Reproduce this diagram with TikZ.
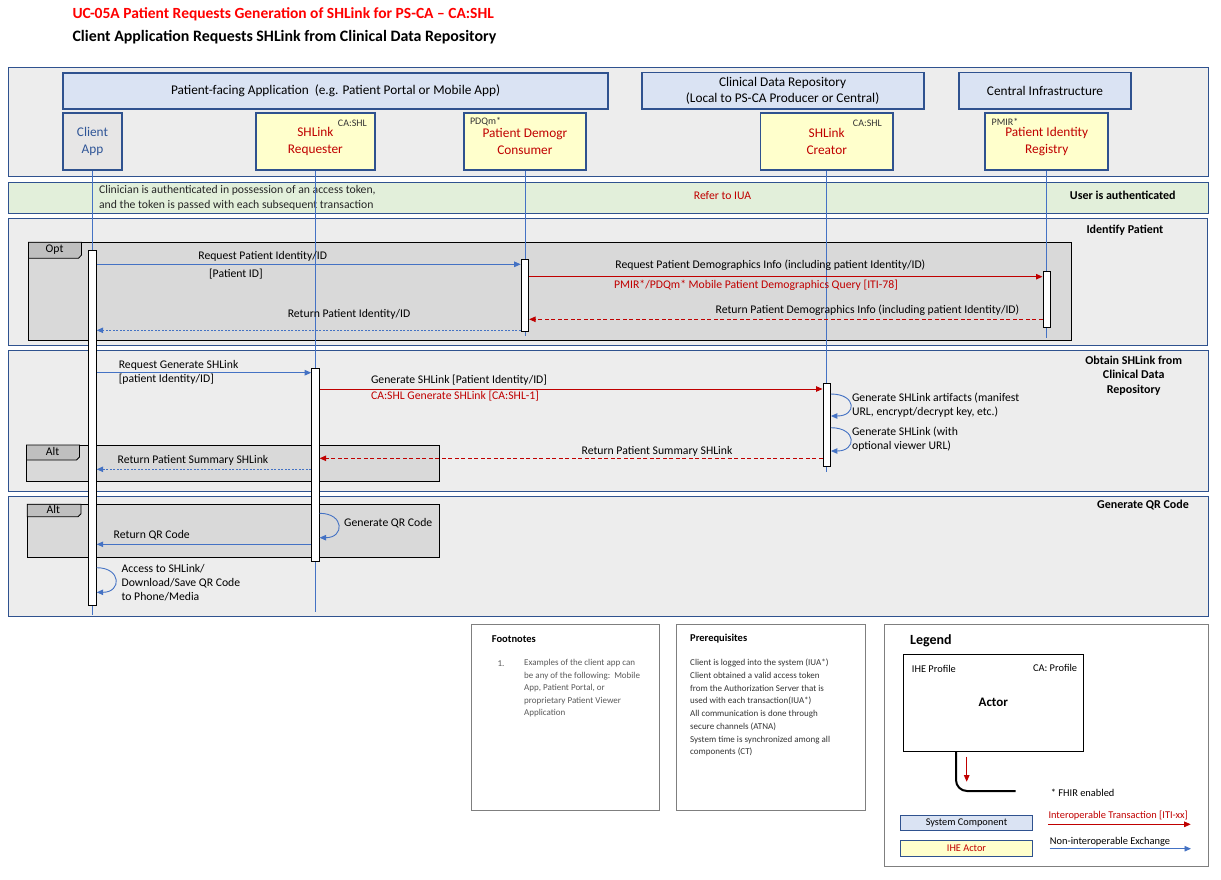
\documentclass[tikz,border=0pt]{standalone}
\usepackage{fontspec}
\setmainfont{Carlito}
\usepackage{xcolor}
\usetikzlibrary{arrows.meta}

\definecolor{frameblue}{HTML}{2F528F}
\definecolor{lifeblue}{HTML}{4472C4}
\definecolor{actred}{HTML}{C00000}
\definecolor{clientblue}{HTML}{2F5597}
\definecolor{sysfill}{HTML}{DAE3F3}
\definecolor{actfill}{HTML}{FFFFCC}
\definecolor{clientfill}{HTML}{E7E6E6}
\definecolor{secfill}{HTML}{EDEDED}
\definecolor{authfill}{HTML}{E2EFDA}
\definecolor{fragfill}{HTML}{D9D9D9}
\definecolor{tabfill}{HTML}{BFBFBF}
\definecolor{boxgray}{HTML}{7F7F7F}

\begin{document}
\begin{tikzpicture}[x=1pt, y=-1pt, font=\fontsize{11.7}{14.3}\selectfont,
    section/.style={draw=frameblue, line width=0.8pt, fill=secfill},
    sysbox/.style={draw=frameblue, line width=1.8pt, fill=sysfill, align=center, inner sep=0pt,
      minimum height=36.5pt, font=\fontsize{13.3}{16.7}\selectfont},
    actor/.style={draw=frameblue, line width=1.8pt, fill=actfill, align=center, inner sep=0pt,
      minimum height=56.7pt, text=actred, font=\fontsize{13.3}{16.7}\selectfont},
    tag/.style={inner sep=0pt, text=black!80, font=\fontsize{10}{12}\selectfont},
    frag/.style={draw=black, line width=1pt, fill=fragfill},
    fragtab/.style={draw=black, line width=0.8pt, fill=tabfill},
    life/.style={draw=lifeblue, line width=0.8pt},
    bar/.style={draw=black, line width=0.9pt, fill=white, minimum width=7.5pt, inner sep=0pt},
    msg/.style={draw=lifeblue, line width=0.9pt, -{Triangle[length=6.5pt,width=5.5pt]}},
    ret/.style={msg, dash pattern=on 2pt off 1.5pt},
    tx/.style={draw=actred, line width=0.9pt, -{Triangle[length=6.5pt,width=5.5pt]}},
    txret/.style={tx, dash pattern=on 4pt off 2.5pt},
    lbl/.style={inner sep=0pt},
    seclbl/.style={inner sep=0pt, align=center, font=\bfseries\fontsize{12}{14.6}\selectfont},
    notebox/.style={draw=boxgray, line width=0.9pt},
    note/.style={inner sep=0pt, anchor=west, align=left, font=\fontsize{9}{12.4}\selectfont},
    legtext/.style={inner sep=0pt, anchor=west, font=\fontsize{10.4}{12}\selectfont}]

  \useasboundingbox (0,0) rectangle (1221,879);

  % titles
  \node[anchor=west, text=red, font=\bfseries\fontsize{15.5}{18}\selectfont] (title) at (69,14.3)
    {UC-05A Patient Requests Generation of SHLink for PS-CA – CA:SHL};
  \node[anchor=west, font=\bfseries\fontsize{15.9}{18}\selectfont] (subtitle) at (69,37)
    {Client Application Requests SHLink from Clinical Data Repository};

  % bands
  \draw[section] (8.7,67.7) rectangle (1208.7,176);
  \draw[section, fill=authfill] (8.7,182) rectangle (1208,213.3);
  \draw[section] (8.7,218.3) rectangle (1207,345.7);
  \draw[section] (8.7,350) rectangle (1208,491.7);
  \draw[section] (8.7,496.7) rectangle (1208,616);

  % system components
  \node[sysbox, minimum width=544.5pt] (pfa) at (335.6,90.9)
    {Patient-facing Application\ \ (e.g. Patient Portal or Mobile App)};
  \node[sysbox, minimum width=282pt]   (cdr) at (782.6,90.8)
    {Clinical Data Repository\\(Local to PS-CA Producer or Central)};
  \node[sysbox, minimum width=171.5pt] (cinf) at (1045,90.8) {Central Infrastructure};

  % actors
  \node[actor, minimum width=58.5pt, fill=clientfill, text=clientblue] (client) at (92.5,141.7) {Client\\App};
  \node[actor, minimum width=119.1pt] (req)   at (315.4,141.7) {SHLink\\Requester};
  \node[actor, minimum width=122.2pt] (cons)  at (524.9,141.7) {Patient Demogr\\Consumer};
  \node[actor, minimum width=132.6pt] (creat) at (826.7,141.7) {SHLink\\Creator};
  \node[actor, minimum width=122.8pt] (reg)   at (1046.7,141.7) {Patient Identity\\Registry};

  \node[tag, anchor=east] (reqtag)   at (367,123.5) {CA:SHL};
  \node[tag, anchor=west] (constag)  at (469.8,121.7) {PDQm*};
  \node[tag, anchor=east] (creattag) at (882,123.3) {CA:SHL};
  \node[tag, anchor=west] (regtag)   at (991.5,121.7) {PMIR*};

  % authentication band and section labels
  \node[lbl, anchor=west, align=left, text=black!85] (authnote) at (98.9,197.8)
    {Clinician is authenticated in possession of an access token,\\and the token is passed with each subsequent transaction};
  \node[lbl, text=actred] (iua) at (722.5,195.7) {Refer to IUA};
  \node[seclbl] (authlbl) at (1122.8,195) {User is authenticated};
  \node[seclbl] (idlbl)   at (1124.9,230) {Identify Patient};
  \node[seclbl] (obtlbl)  at (1133.7,375.5) {Obtain SHLink from\\Clinical Data\\Repository};
  \node[seclbl] (qrlbl)   at (1143,505) {Generate QR Code};

  % fragments
  \draw[frag] (28.5,242.3) rectangle (1071.2,340.3);
  \draw[fragtab] (28.5,242.3) -- (81.5,242.3) -- (81.5,255) -- (78.5,258.3) -- (28.5,258.3) -- cycle;
  \node[lbl] (opt) at (54.6,249.5) {Opt};

  \draw[frag] (26.5,445) rectangle (439.3,481);
  \draw[fragtab] (26.5,445) -- (79.5,445) -- (79.5,457) -- (76.5,460) -- (26.5,460) -- cycle;
  \node[lbl] (alt1) at (52.6,451.7) {Alt};

  \draw[frag] (27.3,504.3) rectangle (439.3,557.3);
  \draw[fragtab] (27.3,504.3) -- (81,504.3) -- (81,513.7) -- (78,516.7) -- (27.3,516.7) -- cycle;
  \node[lbl] (alt2) at (53.4,509.6) {Alt};

  % lifelines
  \foreach \a/\e in {client/615, req/612, cons/336, creat/472, reg/338}{
    \coordinate (\a-end) at (\a.south |- 0,\e);
    \draw[life] (\a.south) -- (\a-end);
  }

  % activation bars
  \node[bar, minimum height=354.7pt] (cbar) at (client.south |- 0,427.7) {};
  \node[bar, minimum height=71.7pt]  (dbar) at (cons.south |- 0,295.2) {};
  \node[bar, minimum height=56.3pt]  (rbar) at (reg.south |- 0,299.2) {};
  \node[bar, minimum height=192.7pt] (sbar) at (req.south |- 0,464.7) {};
  \node[bar, minimum height=82.7pt]  (gbar) at (creat.south |- 0,424.7) {};

  % message levels
  \coordinate (m1) at (0,264.3);
  \coordinate (m2) at (0,276.7);
  \coordinate (m3) at (0,319.3);
  \coordinate (m4) at (0,330.3);
  \coordinate (m5) at (0,372.7);
  \coordinate (m6) at (0,389);
  \coordinate (l1a) at (0,394);
  \coordinate (l1b) at (0,416);
  \coordinate (l2a) at (0,427.7);
  \coordinate (l2b) at (0,451);
  \coordinate (m7) at (0,458.3);
  \coordinate (m8) at (0,469.3);
  \coordinate (l3a) at (0,513.3);
  \coordinate (l3b) at (0,537.7);
  \coordinate (m9) at (0,544.3);
  \coordinate (l4a) at (0,567.7);
  \coordinate (l4b) at (0,592.3);

  % identify patient
  \draw[msg]    (cbar.east |- m1) -- (dbar.west |- m1);
  \node[lbl] (t1a) at (262.7,256.3) {Request Patient Identity/ID};
  \node[lbl] (t1b) at (235.9,274.3) {[Patient ID]};

  \draw[tx]     (dbar.east |- m2) -- (rbar.west |- m2);
  \node[lbl, anchor=west] (t2a) at (615.2,265.3) {Request Patient Demographics Info (including patient Identity/ID)};
  \node[lbl, anchor=west, text=actred] (t2b) at (613.9,285.3) {PMIR*/PDQm* Mobile Patient Demographics Query [ITI-78]};

  \draw[txret]  (rbar.west |- m3) -- (dbar.east |- m3);
  \node[lbl, anchor=west] (t3) at (715.4,310) {Return Patient Demographics Info (including patient Identity/ID)};

  \draw[ret]    (dbar.west |- m4) -- (cbar.east |- m4);
  \node[lbl] (t4) at (349,314.3) {Return Patient Identity/ID};

  % obtain shlink
  \draw[msg]    (cbar.east |- m5) -- (sbar.west |- m5);
  \node[lbl, anchor=west, align=left] (t5) at (118.6,372.6) {Request Generate SHLink\\{}[patient Identity/ID]};

  \draw[tx]     (sbar.east |- m6) -- (gbar.west |- m6);
  \node[lbl, anchor=west] (t6a) at (370.9,380) {Generate SHLink [Patient Identity/ID]};
  \node[lbl, anchor=west, text=actred] (t6b) at (370.9,396) {CA:SHL Generate SHLink [CA:SHL-1]};

  \draw[msg] (gbar.east |- l1a) .. controls +(26,0) and +(26,0) .. (gbar.east |- l1b);
  \node[lbl, anchor=west, align=left] (t7) at (851.9,405) {Generate SHLink artifacts (manifest\\URL, encrypt/decrypt key, etc.)};

  \draw[msg] (gbar.east |- l2a) .. controls +(26,0) and +(26,0) .. (gbar.east |- l2b);
  \node[lbl, anchor=west, align=left] (t8) at (851.9,439.5) {Generate SHLink (with\\optional viewer URL)};

  \draw[txret]  (gbar.west |- m7) -- (sbar.east |- m7);
  \node[lbl] (t9) at (657,451) {Return Patient Summary SHLink};

  \draw[ret]    (sbar.west |- m8) -- (cbar.east |- m8);
  \node[lbl, anchor=west] (t10) at (117.4,460) {Return Patient Summary SHLink};

  % generate qr code
  \draw[msg] (sbar.east |- l3a) .. controls +(25,0) and +(25,0) .. (sbar.east |- l3b);
  \node[lbl, anchor=west] (t11) at (344,523.3) {Generate QR Code};

  \draw[msg]    (sbar.west |- m9) -- (cbar.east |- m9);
  \node[lbl, anchor=west] (t12) at (113.5,535.7) {Return QR Code};

  \draw[msg] (cbar.east |- l4a) .. controls +(25,0) and +(25,0) .. (cbar.east |- l4b);
  \node[lbl, anchor=west, align=left] (t13) at (121.4,582.8) {Access to SHLink/\\Download/Save QR Code\\to Phone/Media};

  % footnotes
  \draw[notebox] (471.7,624) rectangle (659.3,810);
  \node[lbl, anchor=west, font=\bfseries\fontsize{10.5}{12}\selectfont] (fnhead) at (491.7,639) {Footnotes};
  \node[note, text=black!65] (fnnum) at (497.3,663.3) {1.};
  \node[note, text=black!65] (fntext) at (524,688.3)
    {Examples of the client app can\\be any of the following:\ \ Mobile\\App, Patient Portal, or\\proprietary Patient Viewer\\Application};

  % prerequisites
  \draw[notebox] (676,624) rectangle (865,810);
  \node[lbl, anchor=west, font=\bfseries\fontsize{10.5}{12}\selectfont] (prhead) at (690,639) {Prerequisites};
  \node[note, text=black!80] (pr1) at (690,663.3) {Client is logged into the system (IUA*)};
  \node[note, text=black!80] (pr2) at (690,688.5) {Client obtained a valid access token\\from the Authorization Server that is\\used with each transaction(IUA*)};
  \node[note, text=black!80] (pr3) at (690,720.5) {All communication is done through\\secure channels (ATNA)};
  \node[note, text=black!80] (pr4) at (690,746.2) {System time is synchronized among all\\components (CT)};

  % legend
  \draw[notebox] (884,624) rectangle (1208.3,866);
  \node[lbl, anchor=west, font=\bfseries\fontsize{14}{16}\selectfont] (leghead) at (910,640.7) {Legend};
  \node[draw=black, line width=0.9pt, fill=white, minimum width=180pt, minimum height=97pt,
        font=\bfseries\fontsize{13}{15}\selectfont] (legactor) at (993.3,702.5) {Actor};
  \node[legtext] (legprof) at (911.7,669) {IHE Profile};
  \node[legtext, anchor=east] (legca) at (1077.3,668) {CA: Profile};
  \coordinate (wirestart) at (956,751);
  \coordinate (wireend) at (1015.7,791);
  \draw[line width=2pt, rounded corners=11pt] (wirestart) |- (wireend);
  \coordinate (legtxa) at (966.7,756.7);
  \coordinate (legtxb) at (966.7,781.7);
  \draw[tx] (legtxa) -- (legtxb);
  \node[legtext] (fhir) at (1050.7,793.3) {* FHIR enabled};

  \node[draw=frameblue, line width=0.9pt, fill=sysfill, minimum width=131.6pt, minimum height=15pt,
        inner sep=0pt, font=\fontsize{10.3}{12}\selectfont] (legsys) at (966.5,823.2) {System Component};
  \node[draw=frameblue, line width=0.9pt, fill=actfill, minimum width=131.6pt, minimum height=16pt,
        inner sep=0pt, text=actred, font=\fontsize{10.3}{12}\selectfont] (legact) at (966.5,848) {IHE Actor};

  \node[legtext, text=actred] (legtx) at (1048.3,816) {Interoperable Transaction [ITI-xx]};
  \coordinate (legtxs) at (1048.3,824.3);
  \coordinate (legtxe) at (1190.7,824.3);
  \draw[tx] (legtxs) -- (legtxe);
  \node[legtext] (legmsg) at (1049.7,841.7) {Non-interoperable Exchange};
  \coordinate (legmsgs) at (1049.7,848.7);
  \coordinate (legmsge) at (1191,848.7);
  \draw[msg] (legmsgs) -- (legmsge);
\end{tikzpicture}
\end{document}
